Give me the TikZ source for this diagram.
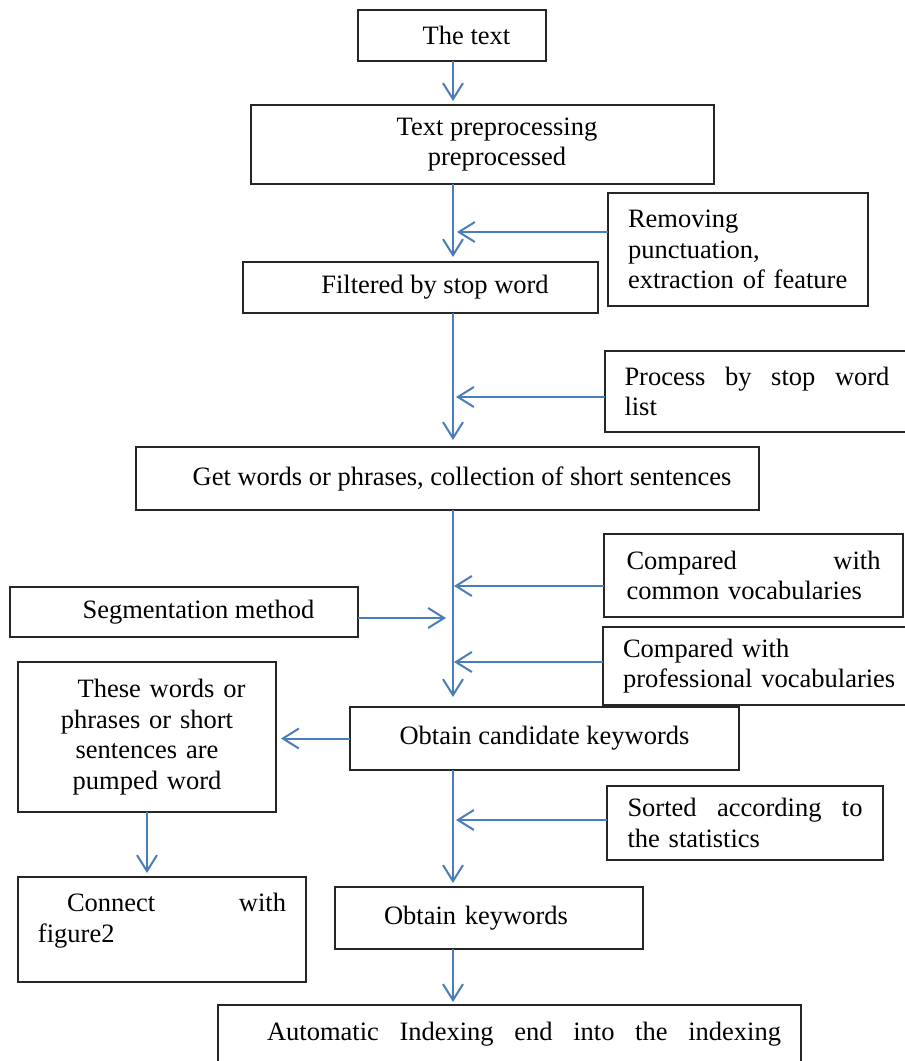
\documentclass[tikz,border=0pt]{standalone}
\usepackage{fontspec}
\setmainfont{Liberation Serif}
\usepackage{tikz}
\usetikzlibrary{shapes, arrows.meta, positioning}
\definecolor{flowblue}{RGB}{74,126,187}
\newcommand{\indw}{\hspace*{14.5pt}}

\begin{document}
\begin{tikzpicture}[x=1pt, y=-1pt, every node/.style={font=\fontsize{13.25}{15.25}\selectfont},
    box/.style={draw=black!85, line width=0.7pt, inner xsep=0pt, inner ysep=0pt, outer sep=0pt, align=center},
    flow/.style={draw=flowblue, line width=1pt, -{Straight Barb[length=8pt, width=10pt]}, shorten >=1.5pt}]
        \useasboundingbox (0,0) rectangle (452.5,530.5);
        % Main column
        \node[box, minimum width=94pt, minimum height=25.5pt] (thetext) at (226,17.75) {\indw The text};
        \node[box, minimum width=231.5pt, minimum height=39.5pt, below=22pt of thetext, xshift=15.25pt] (preproc) {\indw Text preprocessing\\\indw preprocessed};
        \node[box, minimum width=177.5pt, minimum height=25.5pt, below=39pt of preproc, xshift=-31pt] (filtered) {\indw Filtered by stop word};
        \node[box, minimum width=311.5pt, minimum height=31.5pt, below=67pt of filtered, xshift=13.5pt] (getwords) {\indw Get words or phrases, collection of short sentences};
        \node[box, minimum width=194.5pt, minimum height=31.5pt, below=98.5pt of getwords, xshift=48.5pt] (candidate) {Obtain candidate keywords};
        \node[box, minimum width=154pt, minimum height=31pt, text width=134pt, align=left, below=58.5pt of candidate, xshift=-27.75pt] (keywords) {\indw Obtain keywords};
        \node[box, minimum width=291.5pt, minimum height=29pt, text width=271.5pt, align=left, below=28pt of keywords, xshift=10.25pt] (index) {\indw Automatic\hfill Indexing\hfill end\hfill into\hfill the\hfill indexing};
        % Side boxes, right
        \node[box, anchor=north west, minimum width=130pt, minimum height=56.5pt, text width=110pt, align=left] (removing) at (304,96.5) {Removing\\punctuation,\\extraction of feature};
        \node[box, anchor=north west, minimum width=152pt, minimum height=40.5pt, text width=132.5pt, align=left] (stoplist) at (302.5,175.5) {Process\hfill by\hfill stop\hfill word\\list};
        \node[box, anchor=north west, minimum width=149.5pt, minimum height=41.5pt, text width=127pt, align=left] (common) at (302,267) {Compared\hfill with\\common vocabularies};
        \node[box, anchor=north west, minimum width=161pt, minimum height=39pt, text width=141pt, align=left] (professional) at (301.5,313.5) {Compared with\\professional vocabularies};
        \node[box, anchor=north west, minimum width=138pt, minimum height=37pt, text width=117.5pt, align=left] (sorted) at (303.5,393) {Sorted\hfill according\hfill to\\the statistics};
        % Side boxes, left
        \node[box, anchor=north west, minimum width=174pt, minimum height=25pt] (segment) at (5,293.5) {\indw Segmentation method};
        \node[box, anchor=north west, minimum width=129pt, minimum height=75pt, text width=109pt] (words) at (9,331) {\indw These words or\\phrases or short\\sentences are\\pumped word};
        \node[box, anchor=north west, minimum width=144pt, minimum height=52.5pt, text width=124pt, text depth=27pt, align=left] (connect) at (9,438.5) {\indw Connect\hfill with\\figure2};
        % Arrows down the spine
        \coordinate (spine) at (226.5,0);
        \draw[flow, shorten >=2pt] (thetext.south -| spine) -- (preproc.north -| spine);
        \draw[flow, shorten >=2.5pt] (preproc.south -| spine) -- (filtered.north -| spine);
        \draw[flow, shorten >=3.5pt] (filtered.south -| spine) -- (getwords.north -| spine);
        \draw[flow, shorten >=5pt] (getwords.south -| spine) -- (candidate.north -| spine);
        \draw[flow, shorten >=2pt] (candidate.south -| spine) -- (keywords.north -| spine);
        \draw[flow] (keywords.south -| spine) -- (index.north -| spine);
        % Arrows into the spine
        \coordinate (fromremoving) at ([yshift=8.75pt]removing.west);
        \coordinate (fromstoplist) at ([yshift=-2.75pt]stoplist.west);
        \coordinate (fromcommon) at ([yshift=-5.25pt]common.west);
        \coordinate (fromsegment) at ([yshift=-3pt]segment.east);
        \coordinate (fromprofessional) at ([yshift=2pt]professional.west);
        \coordinate (fromsorted) at ([yshift=1.5pt]sorted.west);
        \draw[flow, shorten >=2pt] (fromremoving) -- (fromremoving -| spine);
        \draw[flow] (fromstoplist) -- (fromstoplist -| spine);
        \draw[flow, shorten >=0.5pt] (fromcommon) -- (fromcommon -| spine);
        \draw[flow, shorten >=3.5pt] (fromsegment) -- (fromsegment -| spine);
        \draw[flow, shorten >=0.5pt] (fromprofessional) -- (fromprofessional -| spine);
        \draw[flow] (fromsorted) -- (fromsorted -| spine);
        % Left branch
        \draw[flow, shorten >=2.5pt] (candidate.west) -- (candidate.west -| words.east);
        \draw[flow, shorten >=2pt] (words.south) -- (words.south |- connect.north);
\end{tikzpicture}
\end{document}
